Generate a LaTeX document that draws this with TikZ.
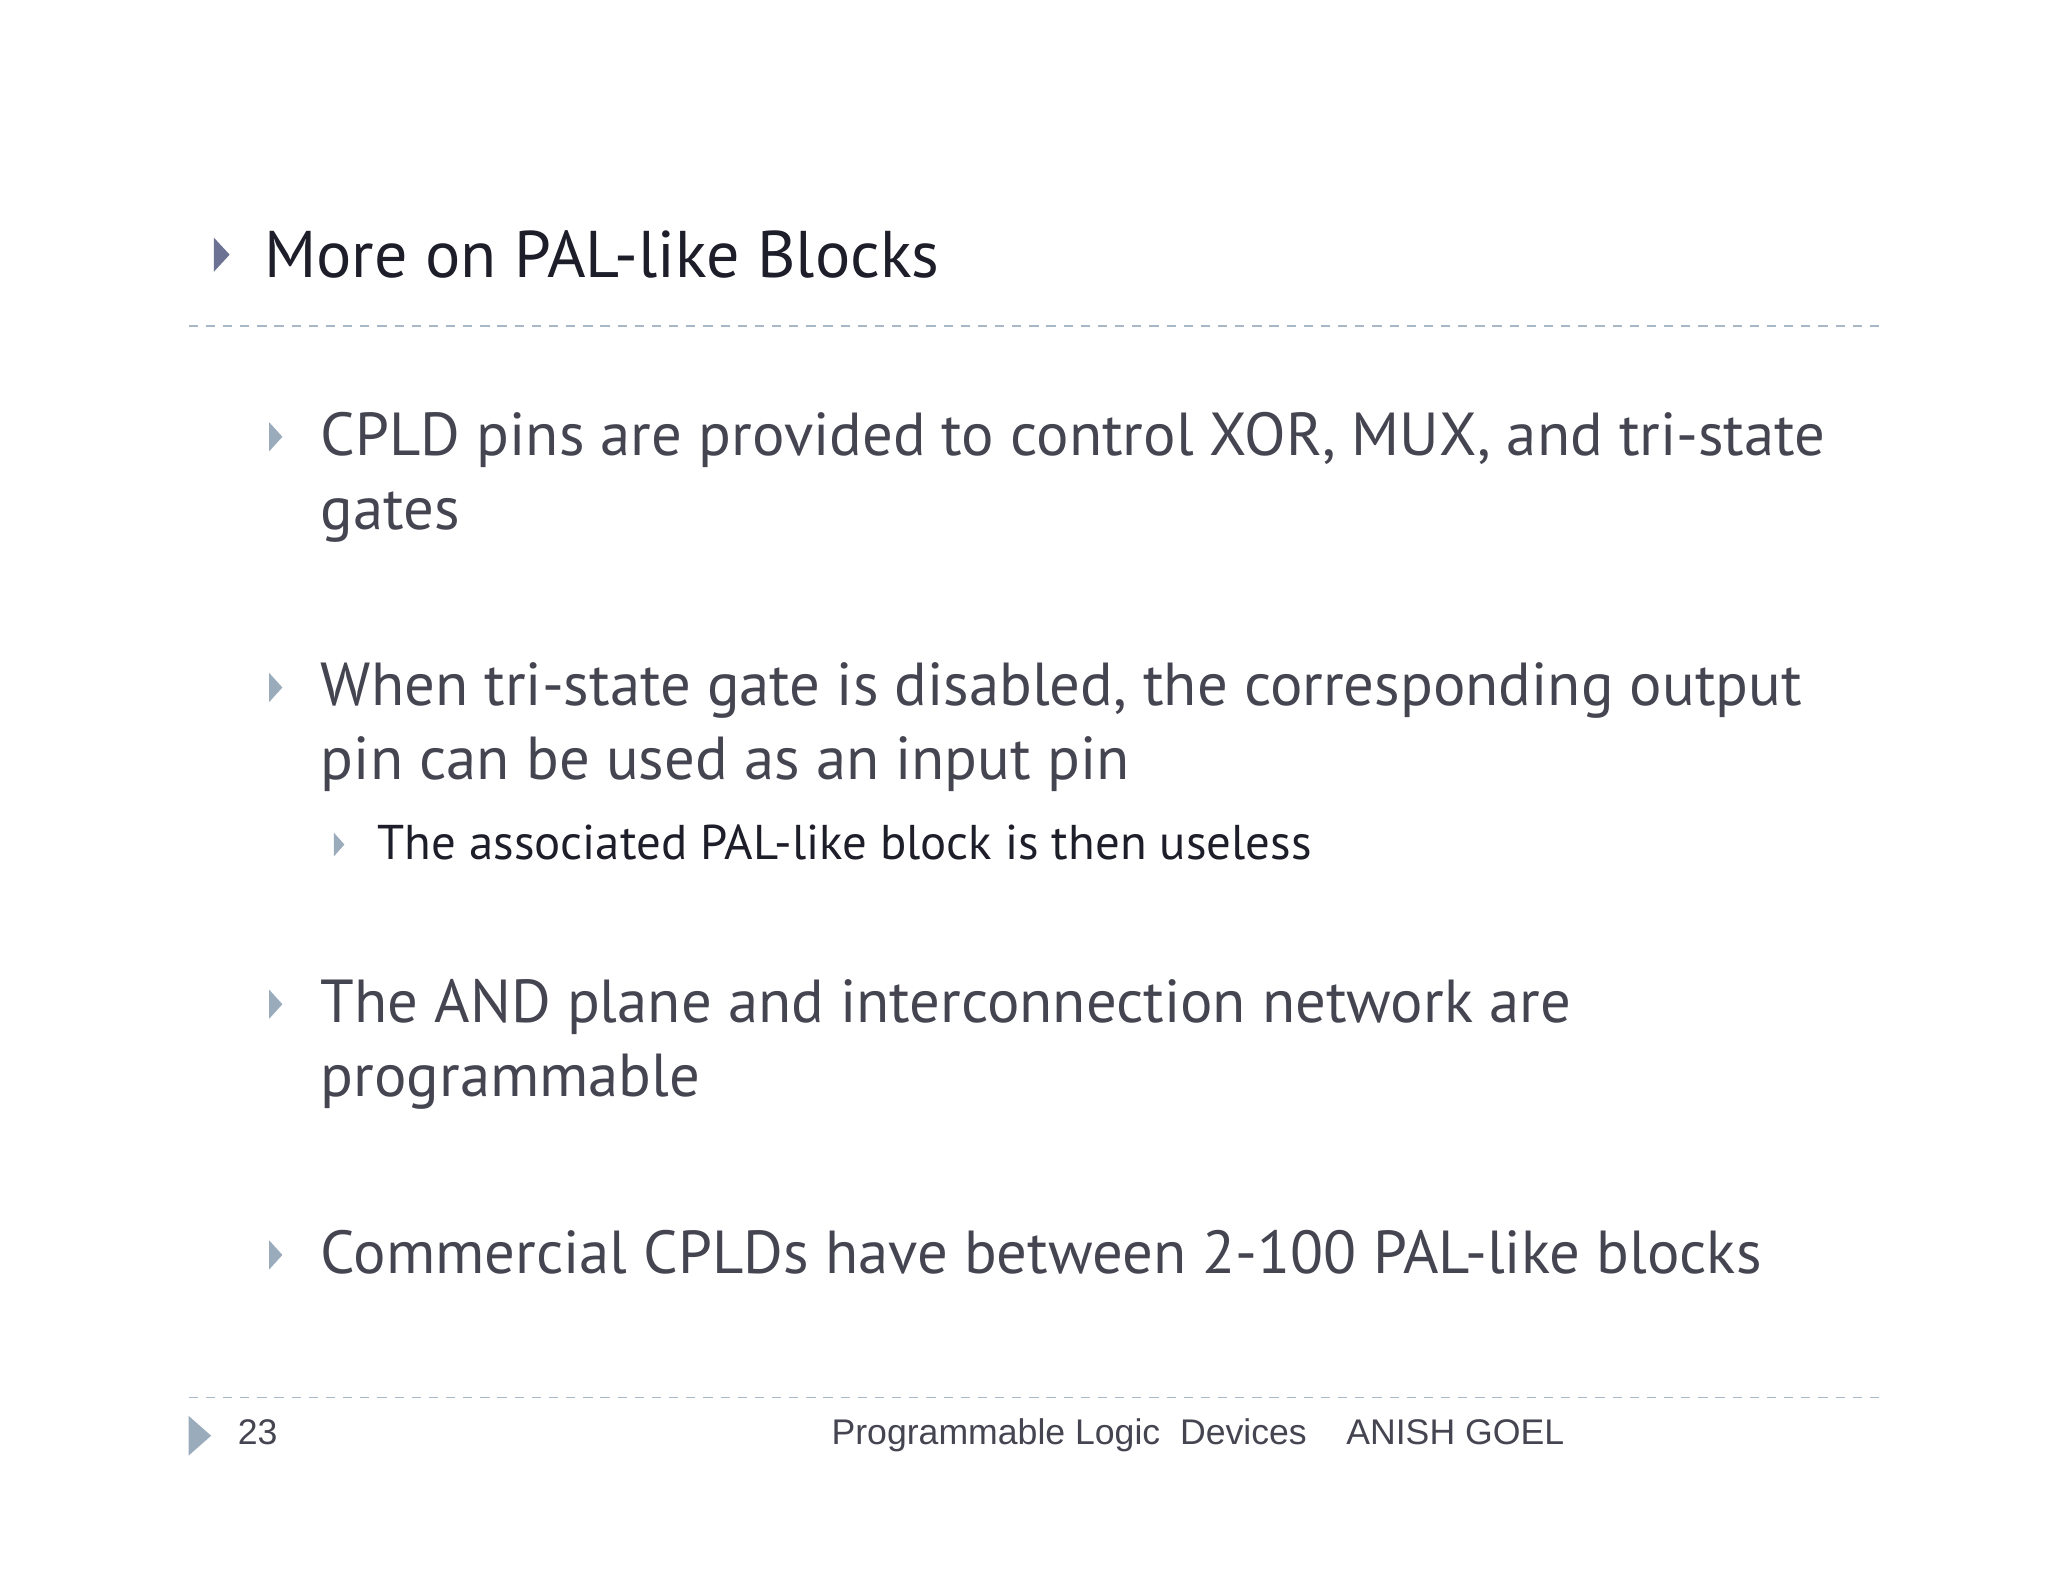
\documentclass[tikz,border=0pt]{standalone}
\usepackage{fontspec}
\setmainfont{PT Sans}
\newfontfamily\footfont{Liberation Sans}
\definecolor{titlec}{HTML}{1E1E2A}
\definecolor{bodyc}{HTML}{454552}
\definecolor{bulc}{HTML}{9AABBC}
\definecolor{tbulc}{HTML}{6C7294}
\definecolor{dashc}{HTML}{A8B8C6}
\begin{document}
\begin{tikzpicture}[x=1pt,y=-1pt,
  body/.style={anchor=base west,inner sep=0,text=bodyc,font=\fontsize{46}{58}\selectfont},
  bul/.style={fill=bulc,draw=none},
  dline/.style={draw=dashc,line width=1.3pt,dash pattern=on 7pt off 6pt}]
\useasboundingbox[fill=white] (0,0) rectangle (1552,1199);
\fill[tbulc] (162,180)--(174,193)--(162,206)--cycle;
\node[anchor=base west,inner sep=0,text=titlec,font=\fontsize{50}{60}\selectfont] (title) at (200,210) {More on PAL-like Blocks};
\coordinate (d1a) at (143,247); \coordinate (d1b) at (1425,247);
\draw[dline] (d1a)--(d1b);
\foreach \y in {331,521,761,951}{\fill[bul] (204,\y-11)--(214,\y)--(204,\y+11)--cycle;}
\fill[bul] (253,631)--(261,640)--(253,649)--cycle;
\node[body] (b1) at (243,345) {CPLD pins are provided to control XOR, MUX, and tri-state};
\node[body] (b1b) at (243,401) {gates};
\node[body] (b2) at (243,535) {When tri-state gate is disabled, the corresponding output};
\node[body] (b2b) at (243,591) {pin can be used as an input pin};
\node[anchor=base west,inner sep=0,text=titlec,font=\fontsize{37}{44}\selectfont] (s1) at (286,651) {The associated PAL-like block is then useless};
\node[body] (b3) at (243,775) {The AND plane and interconnection network are};
\node[body] (b3b) at (243,831) {programmable};
\node[body] (b4) at (243,965) {Commercial CPLDs have between 2-100 PAL-like blocks};
\coordinate (d2a) at (143,1059); \coordinate (d2b) at (1425,1059);
\draw[dline] (d2a)--(d2b);
\fill[bul] (143,1073)--(160,1088)--(143,1103)--cycle;
\node[anchor=base west,inner sep=0,text=bodyc,font=\footfont\fontsize{27}{30}\selectfont] (pg) at (180,1095) {23};
\node[anchor=base west,inner sep=0,text=bodyc,font=\footfont\fontsize{27}{30}\selectfont] (ft) at (630,1095) {Programmable Logic\ \ Devices\ \ \ \ ANISH GOEL};
\end{tikzpicture}
\end{document}
